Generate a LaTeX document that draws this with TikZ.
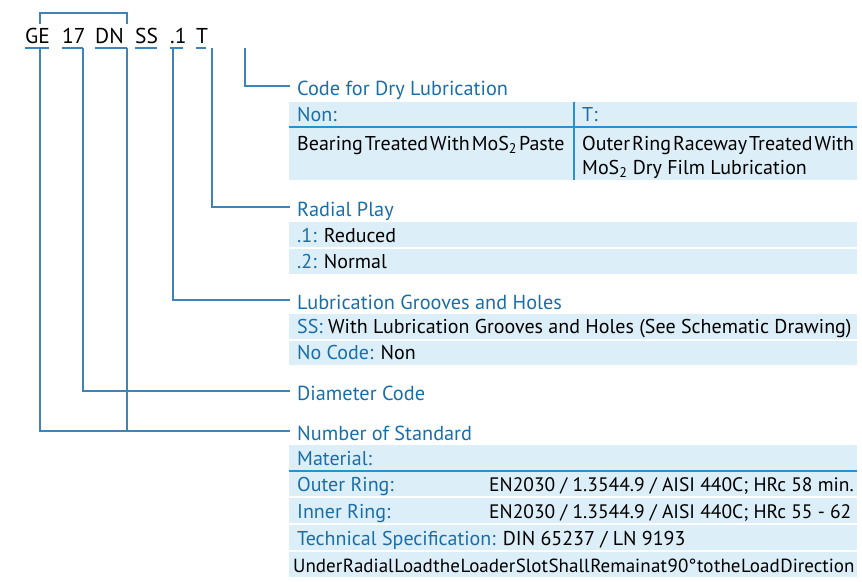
\documentclass[tikz,border=0pt]{standalone}
\usepackage{fontspec}
\setmainfont{PT Sans}
\definecolor{leadblue}{RGB}{62,132,184}
\definecolor{headblue}{RGB}{26,110,166}
\definecolor{rowfill}{RGB}{220,238,248}
\definecolor{ruleblue}{RGB}{40,145,210}
\newcommand{\tightspace}{\spaceskip 2pt\relax}
\newcommand{\notspace}{\spaceskip 0.6pt\relax}
\tikzset{
  lead/.style={draw=leadblue, line width=1.4pt},
  title/.style={anchor=west, inner xsep=7pt, inner ysep=0pt, text height=20pt, text depth=2pt, text=headblue, font=\fontsize{20.3}{22}\selectfont},
  entry/.style={anchor=west, inner sep=0pt, text height=15pt, text depth=1pt, font=\fontsize{20}{22}\selectfont},
  tight/.style={entry, font=\fontsize{20}{22}\selectfont\tightspace},
  value/.style={entry, font=\fontsize{19.5}{22}\selectfont},
  code/.style={anchor=base west, inner sep=0pt, font=\fontsize{21.5}{24}\selectfont},
}
\newcommand{\key}[1]{\textcolor{headblue}{#1}}
\begin{document}
\begin{tikzpicture}[x=1pt,y=-1pt]
			\useasboundingbox (0,0) rectangle (862,581);
			%%%%% CODE %%%%%
			\node[code] (ge) at (25,43) {GE};
			\node[code] (seventeen) at (62,43) {17};
			\node[code] (dn) at (95,43) {DN};
			\node[code] (ss) at (135,43) {SS};
			\node[code] (one) at (170,43) {.1};
			\node[code] (t) at (196,43) {T};
			
			\draw[lead] (40,24) -- (40,13) -- (127,13) -- (127,24);
			\foreach \a/\b in {25/49, 62/83, 95/127, 135/157, 170/183, 196/206}
				\draw[lead] (\a,48) -- (\b,48);
			
			\coordinate (pge) at (40,48);
			\coordinate (pseventeen) at (83,48);
			\coordinate (pdn) at (127,48);
			\coordinate (pone) at (173,48);
			\coordinate (pt) at (212,48);
			\coordinate (pdry) at (245,48);
			
			%%%%% TITLES %%%%%
			\node[title] (tdry) at (290,86) {Code for Dry Lubrication};
			\node[title] (tplay) at (290,207) {Radial Play};
			\node[title] (tgroove) at (290,300) {Lubrication Grooves and Holes};
			\node[title] (tdia) at (290,391) {Diameter Code};
			\node[title] (tstd) at (290,431) {Number of Standard};
			
			\draw[lead] (pdry) |- (tdry.west);
			\draw[lead] (pt) |- (tplay.west);
			\draw[lead] (pone) |- (tgroove.west);
			\draw[lead] (pseventeen) |- (tdia.west);
			\draw[lead] (pge) |- (tstd.west);
			\draw[lead] (pdn) -- (pdn |- tstd.west);
			
			%%%%% TABLES %%%%%
			\foreach \t/\b in {102/180, 222/247, 249/274, 314/339, 341/365, 445/471, 471/496, 498/523, 525/550, 552/577}
				\fill[rowfill] (289,\t) rectangle (857,\b);
			\draw[ruleblue, line width=1.2pt] (289,127) -- (857,127);
			\draw[ruleblue, line width=1.2pt] (574,102) -- (574,180);
			\draw[ruleblue, line width=1.2pt] (289,471) -- (857,471);
			
			\node[entry, text=headblue] (non) at (297,114) {Non:};
			\node[entry, text=headblue] (tcol) at (582,114) {T:};
			\node[tight] (paste) at (297,143) {Bearing Treated With MoS\textsubscript{2} Paste};
			\node[tight] (filma) at (582,143) {Outer Ring Raceway Treated With};
			\node[entry] (filmb) at (582,167) {MoS\textsubscript{2} Dry Film Lubrication};
			
			\node[entry] (reduced) at (297,235) {\key{.1:} Reduced};
			\node[entry] (normal) at (297,261) {\key{.2:} Normal};
			
			\node[entry] (grooves) at (297,326) {\key{SS:} With Lubrication Grooves and Holes (See Schematic Drawing)};
			\node[entry] (nocode) at (297,352) {\key{No Code:} Non};
			
			\node[entry, text=headblue] (material) at (297,458) {Material:};
			\node[entry, text=headblue] (outer) at (297,484) {Outer Ring:};
			\node[value] (outerval) at (489,484) {EN2030 / 1.3544.9 / AISI 440C; HRc 58 min.};
			\node[entry, text=headblue] (inner) at (297,511) {Inner Ring:};
			\node[value] (innerval) at (489,511) {EN2030 / 1.3544.9 / AISI 440C; HRc 55 - 62};
			\node[entry] (spec) at (297,538) {\key{Technical Specification:} DIN 65237 / LN 9193};
			\node[entry, font=\fontsize{19}{22}\selectfont\notspace] (load) at (293,565) {Under Radial Load the Loader Slot Shall Remain at 90° to the Load Direction};
			%%%%% END %%%%%
\end{tikzpicture}
\end{document}
